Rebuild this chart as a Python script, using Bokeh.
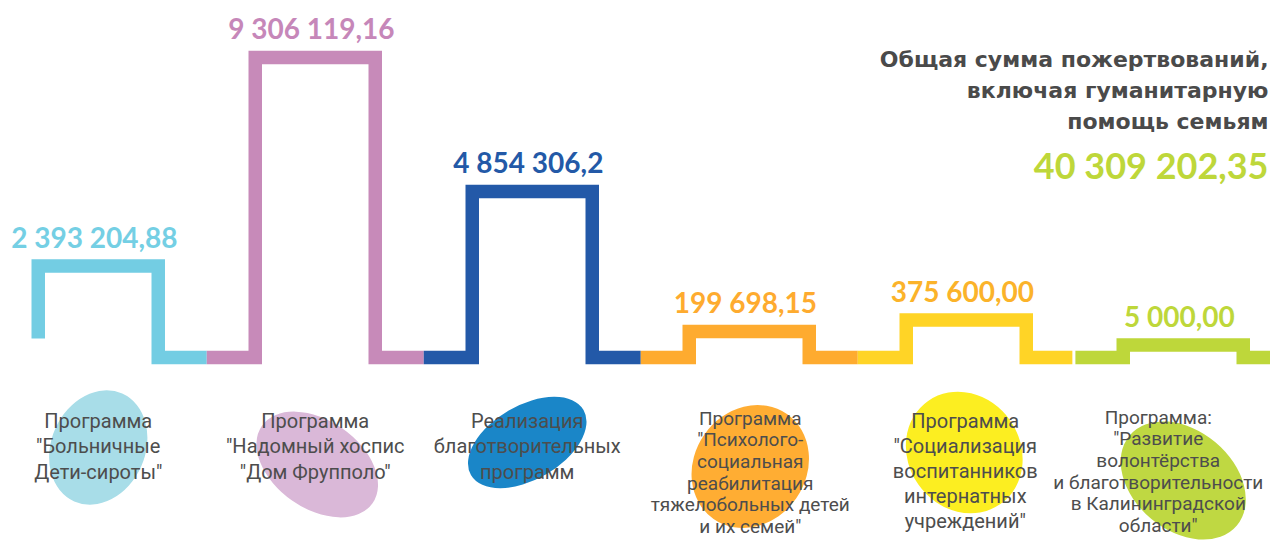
from bokeh.plotting import figure
from bokeh.models import Range1d
from bokeh.embed import file_html
from bokeh.resources import INLINE
from bokeh.core.properties import value

# ---------------- data ----------------
programs = [
    "Программа\n\"Больничные\nДети-сироты\"",
    "Программа\n\"Надомный хоспис\n\"Дом Фрупполо\"",
    "Реализация\nблаготворительных\nпрограмм",
    "Программа\n\"Психолого-\nсоциальная\nреабилитация\nтяжелобольных детей\nи их семей\"",
    "Программа\n\"Социализация\nвоспитанников\nинтернатных\nучреждений\"",
    "Программа:\n\"Развитие\nволонтёрства\nи благотворительности\nв Калининградской\nобласти\"",
]
amounts = [2393204.88, 9306119.16, 4854306.20, 199698.15, 375600.00, 5000.00]
amount_labels = ["2 393 204,88", "9 306 119,16", "4 854 306,2", "199 698,15", "375 600,00", "5 000,00"]
# drawn step heights (decorative)
step_levels = [91.5, 300.0, 166.0, 26.0, 37.5, 12.5]
title_lines = ["Общая сумма пожертвований,", "включая гуманитарную", "помощь семьям"]
total_label = "40 309 202,35"

# ---------------- style / layout ----------------
line_colors = ["#73cde3", "#c78ab9", "#2359a8", "#feab2f", "#ffd426", "#bed73a"]
label_colors = ["#74cfe4", "#c687b9", "#2359a7", "#feab2f", "#fbb32a", "#bed73a"]
blob_colors = ["#a8dde8", "#dab8d8", "#1a86c8", "#ffad33", "#fcee21", "#bfd842"]
# blob layout: (dx px, y, major px, minor px, angle deg)
blob_layout = [(0, -90, 118, 94, 66), (2, -107, 135, 88, -35), (-5, -85, 130, 74, 30),
               (1, -109, 128, 112, 55), (-2, -95, 126, 112, -55), (0, -123, 140, 100, -40)]
# program label layout: (dx px, first baseline, line step, font px)
label_layout = [(0, -71, 25.5, 20), (0, -71, 25.5, 20), (-5, -71, 25.5, 20),
                (1, -68, 21.6, 19), (-1, -71, 25.0, 20), (-25, -67, 21.6, 19)]
TXT_FIX = 0.38       # em shift compensating the renderer's alphabetic baseline
PX = 217.0           # pixels per slot
X0 = 97.75           # pixel centre of slot 0
HW = 60.0 / PX       # half pulse width in slot units
LINE_W = 13.5
W, H = 1270, 540
BASE = 357           # pixel row of the baseline

x_start = -X0 / PX
x_end = (W - X0) / PX

p = figure(width=W, height=H, x_range=Range1d(x_start, x_end), y_range=Range1d(BASE - H, BASE),
           x_axis_type=None, y_axis_type=None, toolbar_location=None, output_backend="svg",
           min_border=0, outline_line_color=None, background_fill_color="white")
p.grid.visible = False

# blobs
bx, by, bw, bh, ba = [], [], [], [], []
for i, (dx, y, mj, mn, ang) in enumerate(blob_layout):
    bx.append(i + dx / PX); by.append(y); bw.append(mj); bh.append(mn); ba.append(ang)
p.ellipse(x=bx, y=by, width=bw, height=bh, angle=ba, angle_units="deg",
          width_units="screen", height_units="screen", fill_color=blob_colors, line_color=None)

# step line segments
n = len(step_levels)
xs, ys = [], []
for i, lvl in enumerate(step_levels):
    right = i + 0.5
    if i == n - 2:
        right = i + 0.489
    if i == n - 1:
        right = i + 0.7
    if i == 0:
        xs.append([i - HW, i - HW, i + HW, i + HW, right])
        ys.append([19, lvl, lvl, 0, 0])
    else:
        left = i - 0.5 if i != n - 1 else i - 0.497
        xs.append([left, i - HW, i - HW, i + HW, i + HW, right])
        ys.append([0, 0, lvl, lvl, 0, 0])
p.multi_line(xs=xs, ys=ys, line_color=line_colors, line_width=LINE_W,
             line_join="miter", line_cap="butt")

# value labels
VFS = 28
p.text(x=[i - 0.018 for i in range(n)], y=step_levels, text=amount_labels,
       text_color=label_colors, text_font=value("Lato"), text_font_style="bold",
       text_font_size=f"{VFS}px", text_align="center", text_baseline="alphabetic",
       y_offset=-(18.75 + TXT_FIX * VFS))

# program labels
for i, lab in enumerate(programs):
    dx, y0, step, fs = label_layout[i]
    lines = lab.split("\n")
    p.text(x=[i + dx / PX] * len(lines),
           y=[y0 + TXT_FIX * fs - k * step for k in range(len(lines))],
           text=lines, text_color="#4d4d4d", text_font=value("Roboto"),
           text_font_size=f"{fs}px", text_align="center", text_baseline="alphabetic")

# title (right side)
TFS = 22
xr = x_end - 2 / PX
p.text(x=[xr] * 3, y=[290 + TXT_FIX * TFS, 259 + TXT_FIX * TFS, 228 + TXT_FIX * TFS],
       text=title_lines, text_color="#4a4a4a",
       text_font=value("DejaVu Sans"), text_font_style="bold", text_font_size=f"{TFS}px",
       text_align="right", text_baseline="alphabetic")
NFS = 36
p.text(x=[xr], y=[179 + TXT_FIX * NFS], text=[total_label], text_color="#bed73a",
       text_font=value("Lato"), text_font_style="bold", text_font_size=f"{NFS}px",
       text_align="right", text_baseline="alphabetic")

open("out.html", "w").write(file_html(p, INLINE))
